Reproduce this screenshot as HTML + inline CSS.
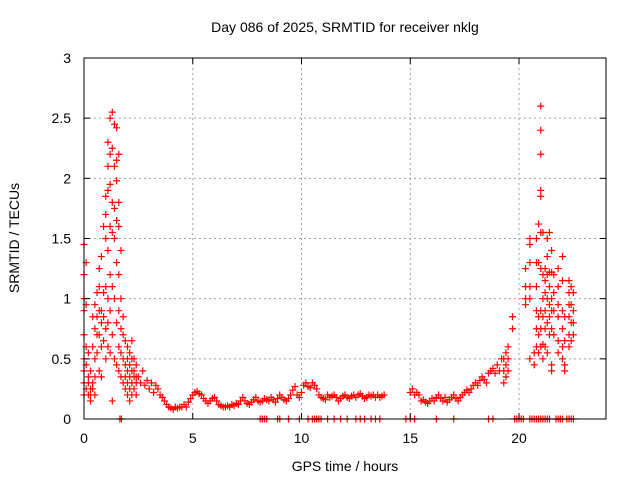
<!DOCTYPE html>
<html><head><meta charset="utf-8"><style>
body{margin:0;background:#fff;}
svg{display:block;font-family:"Liberation Sans",sans-serif;}
</style></head><body>
<svg id="chart" width="640" height="480">
<text x="345" y="32" text-anchor="middle" font-size="14">Day 086 of 2025, SRMTID for receiver nklg</text>
<text x="345" y="471" text-anchor="middle" font-size="14">GPS time / hours</text>
<text transform="translate(19,238) rotate(-90)" text-anchor="middle" font-size="14">SRMTID / TECUs</text>
<g id="grid"></g><g id="marks"></g>
<rect x="84" y="58" width="522" height="361" fill="none" stroke="#000" stroke-width="1"/>
<g id="ticks"></g>
</svg>
<script>
const xTicks=[0,5,10,15,20];
const yTicks=[0,0.5,1,1.5,2,2.5,3];
const yTickLabels=["0","0.5","1","1.5","2","2.5","3"];
const bandStart=2.5;
const bandValues=[0.35,0.3,0.4,0.28,0.32,0.25,0.3,0.22,0.28,0.25,
0.2,0.18,0.15,0.12,0.1,0.09,0.08,0.1,0.09,0.1,
0.1,0.12,0.1,0.14,0.17,0.2,0.22,0.23,0.21,0.2,
0.17,0.15,0.13,0.15,0.17,0.18,0.15,0.12,0.11,0.1,
0.1,0.11,0.1,0.12,0.11,0.13,0.12,0.15,0.18,0.15,
0.13,0.12,0.14,0.16,0.18,0.15,0.14,0.15,0.17,0.16,
0.15,0.18,0.16,0.14,0.17,0.2,0.18,0.16,0.15,0.17,
0.2,0.24,0.27,0.2,0.18,0.22,0.28,0.3,0.27,0.26,
0.3,0.28,0.25,0.2,0.18,0.17,0.16,0.2,0.18,0.19,
0.2,0.18,0.15,0.17,0.19,0.2,0.18,0.17,0.19,0.2,
0.18,0.2,0.21,0.19,0.17,0.18,0.2,0.19,0.2,0.18,
0.2,0.18,0.19,0.2,null,null,null,null,null,null,null,null,null,null,null,
0.22,0.25,0.2,0.22,0.2,0.15,0.16,0.14,0.13,0.15,
0.17,0.15,0.18,0.2,0.17,0.15,0.18,0.14,0.16,0.18,
0.2,0.17,0.15,0.18,0.2,0.22,0.24,0.22,0.25,0.28,
0.3,0.28,0.32,0.35,0.33,0.3,0.38,0.4,0.42,0.38,
0.45,0.4,0.5];
const burstTimes=[0.0,0.1,0.2,0.3,0.4,0.5,0.6,0.7,0.8,0.9,1.0,1.1,1.2,1.3,1.4,1.5,1.6,1.7,1.8,1.9,2.0,2.1,2.2,2.3,2.4,
19.3,19.4,19.5,19.7,20.3,20.5,20.7,20.8,20.9,21.0,21.1,21.2,21.3,21.4,21.5,21.6,21.8,22.0,22.1,22.3,22.4,22.5];
const burstValues=[[1.45,1.2,1.0,0.9,0.7,0.5,0.4,0.3,0.2],[1.3,0.95,0.6,0.45,0.25],[0.55,0.3,0.2,0.35],[0.4,0.2,0.15,0.25],
[0.85,0.6,0.3,0.25],[0.95,0.75,0.5,0.35,0.2],[1.05,0.85,0.7,0.55],[1.25,1.1,0.9,0.7,0.4],[1.35,0.9,0.8,0.6,0.35],
[1.6,1.05,0.85,0.65],[1.85,1.7,1.5,1.1,0.75,0.5],[2.3,2.1,1.9,1.4,1.0,0.8,0.6],[2.5,2.2,1.95,1.6,1.2,0.9,0.55],
[2.55,2.25,1.8,1.55,1.1,0.7,0.15],[2.45,2.1,1.75,1.5,1.0,0.5],[2.42,2.15,1.98,1.65,1.3,0.8,0.45],[2.2,1.8,1.6,1.2,0.9,0.6,0.4],
[1.4,1.0,0.75,0.55,0.35],[0.85,0.7,0.5,0.3],[0.65,0.45,0.35,0.25],[0.6,0.5,0.4,0.3,0.2],[0.55,0.45,0.35,0.25,0.15],
[0.65,0.5,0.4,0.3,0.2],[0.5,0.4,0.35,0.25],[0.45,0.35,0.3,0.2],
[0.5,0.4,0.3],[0.55,0.45,0.35],[0.6,0.5,0.4],[0.85,0.75],[1.25,1.1,1.0,0.95],[1.5,1.45,1.3,1.1,1.0,0.5],[0.55,0.45],
[1.5,1.3,1.1,0.9,0.75,0.6],[1.62,1.3,0.85,0.7,0.55],[2.6,2.4,2.2,1.9,1.85,1.55,1.25,0.9,0.75,0.6],[1.55,1.2,1.0,0.85,0.62,0.5],
[1.25,1.15,1.05,0.9,0.75,0.6],[1.5,1.35,1.2,1.0,0.8,0.55],[1.55,1.22,1.1,0.95,0.85,0.7],[1.4,1.22,1.0,0.9,0.75,0.45,0.4],
[1.2,1.05,0.9,0.7],[1.25,1.1,0.95,0.85,0.65,0.55],[1.35,1.15,0.9,0.75,0.6,0.5],[0.85,0.65,0.45,0.4],
[1.15,1.05,0.95,0.85,0.7,0.6],[1.1,0.95,0.8,0.65],[1.05,0.9,0.8,0.7]];
const zeroTimes=[1.65,1.72,8.1,8.2,8.3,8.4,8.9,9.0,9.4,9.9,10.3,10.5,10.6,10.7,10.8,10.9,11.2,11.5,11.8,12.1,12.5,12.7,12.9,13.2,13.4,13.6,
14.8,15.0,15.2,16.2,17.0,18.6,18.8,19.8,19.9,20.0,20.1,20.2,20.5,20.6,20.7,20.8,20.9,21.0,21.1,21.2,21.3,21.4,21.7,21.8,21.9,22.0,22.2,22.3,22.4,22.5];
const NS='http://www.w3.org/2000/svg';
const X=t=>84+t*(522/24);
const Y=v=>419-v*(361/3);
const grid=document.getElementById('grid'),ticks=document.getElementById('ticks'),marks=document.getElementById('marks');
function mk(tag,attrs,parent){const e=document.createElementNS(NS,tag);for(const k in attrs)e.setAttribute(k,attrs[k]);parent.appendChild(e);return e;}
xTicks.forEach(t=>{
 if(t>0){const g=mk('line',{x1:X(t),x2:X(t),y1:58,y2:419,stroke:'#a0a0a0','stroke-dasharray':'2,3'},grid);
 
 }
 const a=mk('line',{x1:X(t),x2:X(t),y1:419,y2:413,stroke:'#000'},ticks);
 
 
 const b=mk('line',{x1:X(t),x2:X(t),y1:58,y2:64,stroke:'#000'},ticks);
 
 
 const l=mk('text',{x:X(t),y:443,'text-anchor':'middle','font-size':14},ticks);l.textContent=String(t);
 
 
});
yTicks.forEach((v,i)=>{
 if(v>0&&v<3){const g=mk('line',{x1:84,x2:606,y1:Y(v),y2:Y(v),stroke:'#a0a0a0','stroke-dasharray':'2,3'},grid);
 
 }
 const a=mk('line',{x1:84,x2:90,y1:Y(v),y2:Y(v),stroke:'#000'},ticks);
 
 
 const b=mk('line',{x1:600,x2:606,y1:Y(v),y2:Y(v),stroke:'#000'},ticks);
 
 
 const l=mk('text',{x:71,y:Y(v)+5,'text-anchor':'end','font-size':14},ticks);l.textContent=yTickLabels[i];
 
 
});
function plus(t,v){
 const x=X(t),y=Y(v);
 const p=mk('path',{d:`M${x-3.5},${y}h7M${x},${y-3.5}v7`,stroke:'#f00','stroke-width':1.2,fill:'none'},marks);
 
 
}
bandValues.forEach((v,i)=>{if(v!==null)plus(bandStart+i*0.1,v);});
burstTimes.forEach((t,i)=>burstValues[i].forEach(v=>plus(t,v)));
zeroTimes.forEach(t=>plus(t,0));
</script>
</body></html>
